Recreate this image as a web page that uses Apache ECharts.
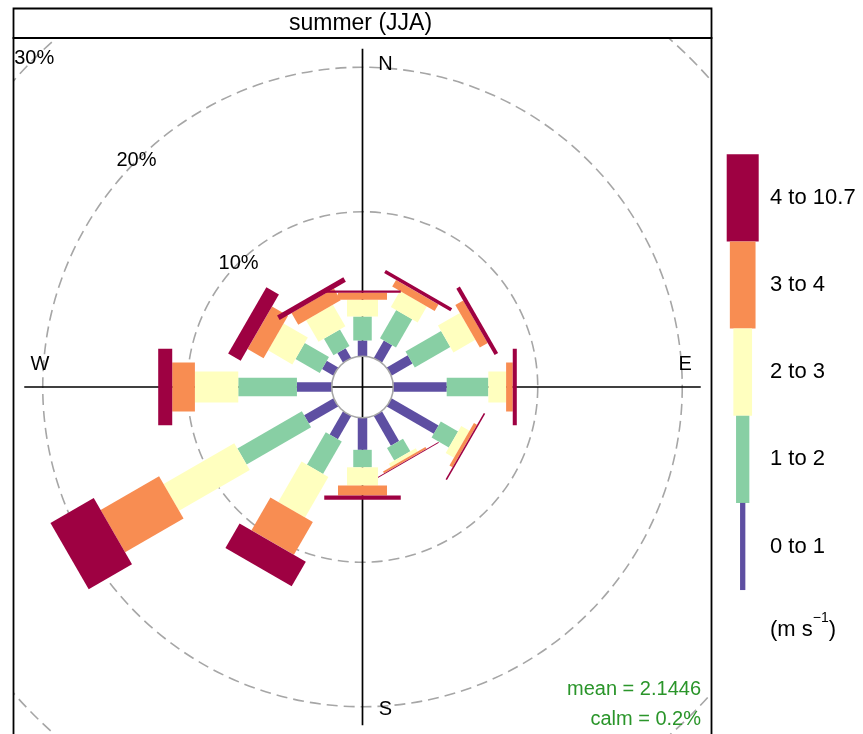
<!DOCTYPE html>
<html>
<head>
<meta charset="utf-8">
<title>summer (JJA) wind rose</title>
<script src="https://cdn.jsdelivr.net/npm/echarts@6/dist/echarts.min.js"></script>
<style>
  html, body { margin: 0; padding: 0; background: #ffffff; }
  #chart { width: 863px; height: 734px; }
</style>
</head>
<body>
<div id="chart"></div>
<script>
// ---- data -------------------------------------------------------------
const panelTitle = 'summer (JJA)';
const directions = [0, 30, 60, 90, 120, 150, 180, 210, 240, 270, 300, 330];
const speedBins = ['0 to 1', '1 to 2', '2 to 3', '3 to 4', '4 to 10.7'];
const speedUnitMain = '(m s';
const speedUnitSup = '\u22121';
// frequency (%) of each wind-speed interval, by direction
const freq0to1  = [1.09, 1.40, 1.68, 3.70, 3.76, 2.37, 2.22, 1.85, 2.35, 2.41, 0.92, 0.78];
const freq1to2  = [1.66, 2.25, 2.84, 2.88, 1.38, 1.01, 1.21, 2.60, 5.15, 4.06, 1.94, 1.32];
const freq2to3  = [1.16, 1.27, 1.75, 1.23, 0.66, 0.27, 1.26, 3.23, 5.65, 3.00, 1.94, 1.73];
const freq3to4  = [0.48, 0.53, 0.63, 0.46, 0.24, 0.14, 0.69, 2.62, 4.67, 1.57, 1.28, 0.93];
const freq4to10 = [0.16, 0.25, 0.28, 0.28, 0.11, 0.07, 0.30, 1.96, 3.46, 0.97, 1.00, 0.35];
const gridPercents = [10, 20, 30];
const gridLabels = ['10%', '20%', '30%'];
const compassLabels = ['N', 'E', 'S', 'W'];
const compassAngles = [0, 90, 180, 270];
const meanSpeed = 2.1446;
const calmPercent = 0.2;

// ---- style / layout ---------------------------------------------------
const FONT = '"Liberation Sans", Arial, Helvetica, sans-serif';
const COLORS = ['#5E4FA2', '#88CFA4', '#FFFFBF', '#F88D52', '#9E0142'];
const PADDLE_WIDTHS = [9.5, 18.5, 31, 49, 76.5];        // px, per speed interval
const KEY_WIDTHS = [5.3, 13.3, 18.7, 25.7, 32];          // px, colour key boxes
const PANEL = { x: 13.5, y: 38, w: 698, h: 700 };
const STRIP = { x: 13.5, y: 8.5, w: 698, h: 29.5 };
const CENTER = [362.5, 387];
const PX_PER_PERCENT = 14.45;
const RADIUS_MAX = 30;
const LABEL_ANGLE = 315;
const COMPASS_R = 20.2;
const COMPASS_SHIFT = 23;
const GRID_STYLE = { fill: 'none', stroke: '#a6a6a6', lineWidth: 1.6, lineDash: [11, 6] };

const bins = [freq0to1, freq1to2, freq2to3, freq3to4, freq4to10];
const totals = directions.map((_, i) => bins.reduce((s, b) => s + b[i], 0));
const maxTotal = Math.max.apply(null, totals);
const offset = maxTotal * 0.1;    // calm-circle offset in the radial scale

// stacked paddles: [outer, direction, inner, interval]; north drawn last
const paddleData = [];
const drawOrder = directions.map((_, i) => i).slice(1).concat([0]);
drawOrder.forEach(i => {
  let cum = 0;
  bins.forEach((b, j) => {
    const lo = cum;
    cum += b[i];
    paddleData.push([cum, directions[i], lo, j]);
  });
});

function center(params) {
  return [params.coordSys.cx, params.coordSys.cy];
}

function renderPaddle(params, api) {
  const hi = api.value(0), ang = api.value(1), lo = api.value(2), j = api.value(3);
  const c = center(params);
  const a = api.coord([lo, ang]);
  const b = api.coord([hi, ang]);
  const dx = b[0] - c[0], dy = b[1] - c[1];
  const len = Math.hypot(dx, dy);
  const hw = PADDLE_WIDTHS[j] / 2;
  const nx = -dy / len * hw, ny = dx / len * hw;
  return {
    type: 'polygon',
    shape: { points: [
      [a[0] + nx, a[1] + ny], [b[0] + nx, b[1] + ny],
      [b[0] - nx, b[1] - ny], [a[0] - nx, a[1] - ny]
    ] },
    style: { fill: COLORS[j] }
  };
}

function renderRing(params, api) {
  const c = center(params);
  const p = api.coord([api.value(0), 0]);
  const r = Math.hypot(p[0] - c[0], p[1] - c[1]);
  return {
    type: 'group',
    clipPath: { type: 'rect', shape: { x: PANEL.x, y: PANEL.y, width: PANEL.w, height: PANEL.h } },
    children: [{
      type: 'circle',
      shape: { cx: c[0], cy: c[1], r: r },
      style: GRID_STYLE
    }]
  };
}

function renderRingLabel(params, api) {
  const p = api.coord([api.value(0), api.value(1)]);
  return {
    type: 'text',
    style: {
      text: gridLabels[params.dataIndex], x: p[0], y: p[1],
      font: '20px ' + FONT, fill: '#000', textAlign: 'center', textVerticalAlign: 'middle'
    }
  };
}

function renderAxisLine(params, api) {
  const v = api.value(0), ang = api.value(1);
  const a = api.coord([v, ang]);
  const b = api.coord([v, ang + 180]);
  return {
    type: 'line',
    shape: { x1: a[0], y1: a[1], x2: b[0], y2: b[1] },
    style: { stroke: '#000', lineWidth: 1.7 }
  };
}

function renderCompass(params, api) {
  const ang = api.value(1);
  const p = api.coord([api.value(0), ang]);
  const vertical = (ang % 180) === 0;
  return {
    type: 'text',
    style: {
      text: compassLabels[params.dataIndex],
      x: p[0] + (vertical ? COMPASS_SHIFT : 0),
      y: p[1] - (vertical ? 0 : COMPASS_SHIFT),
      font: '20px ' + FONT, fill: '#000', textAlign: 'center', textVerticalAlign: 'middle'
    }
  };
}

function renderCalm(params, api) {
  const c = center(params);
  const p = api.coord([api.value(0), 0]);
  const r = Math.hypot(p[0] - c[0], p[1] - c[1]);
  return {
    type: 'circle',
    shape: { cx: c[0], cy: c[1], r: r },
    style: { fill: 'none', stroke: '#a6a6a6', lineWidth: 1.6 }
  };
}

// ---- colour key -------------------------------------------------------
const KEY_CX = 742.7, KEY_TOP = 154.3, KEY_STEP = 87.15, KEY_TEXT_X = 770;
const keyElements = [];
for (let j = bins.length - 1; j >= 0; j--) {
  const row = bins.length - 1 - j;
  const y0 = KEY_TOP + row * KEY_STEP;
  keyElements.push({
    type: 'rect', silent: true,
    shape: { x: KEY_CX - KEY_WIDTHS[j] / 2, y: y0, width: KEY_WIDTHS[j], height: KEY_STEP },
    style: { fill: COLORS[j] }
  });
  keyElements.push({
    type: 'text', silent: true,
    style: {
      text: speedBins[j], x: KEY_TEXT_X, y: y0 + KEY_STEP / 2,
      font: '22px ' + FONT, fill: '#000', textAlign: 'left', textVerticalAlign: 'middle'
    }
  });
}
keyElements.push({
  type: 'text', silent: true,
  style: {
    text: '{a|' + speedUnitMain + '}{b|' + speedUnitSup + '}{a|)}',
    x: KEY_TEXT_X, y: 626, textAlign: 'left', textVerticalAlign: 'middle',
    rich: {
      a: { fontFamily: FONT, fontSize: 22, fill: '#000', color: '#000', lineHeight: 30, verticalAlign: 'bottom' },
      b: { fontFamily: FONT, fontSize: 14, fill: '#000', color: '#000', lineHeight: 30, verticalAlign: 'top' }
    }
  }
});

const option = {
  animation: false,
  backgroundColor: '#ffffff',
  polar: { center: CENTER, radius: PX_PER_PERCENT * (RADIUS_MAX + offset) },
  angleAxis: {
    type: 'value', min: 0, max: 360, startAngle: 90, clockwise: true,
    axisLine: { show: false }, axisTick: { show: false }, axisLabel: { show: false },
    splitLine: { show: false }, splitArea: { show: false }
  },
  radiusAxis: {
    type: 'value', min: -offset, max: RADIUS_MAX,
    axisLine: { show: false }, axisTick: { show: false }, axisLabel: { show: false },
    splitLine: { show: false }, splitArea: { show: false }
  },
  series: [
    {
      type: 'custom', coordinateSystem: 'polar', silent: true, z: 1,
      dimensions: ['r', 'angle'], encode: { radius: 0, angle: 1 },
      data: gridPercents.map(v => [v, 0]), renderItem: renderRing
    },
    {
      type: 'custom', coordinateSystem: 'polar', silent: true, z: 2,
      dimensions: ['r', 'angle'], encode: { radius: 0, angle: 1 },
      data: [[maxTotal, 0], [maxTotal, 90]], renderItem: renderAxisLine
    },
    {
      type: 'custom', coordinateSystem: 'polar', silent: true, z: 3,
      dimensions: ['r', 'angle', 'lo', 'bin'], encode: { radius: 0, angle: 1 },
      data: paddleData, renderItem: renderPaddle
    },
    {
      type: 'custom', coordinateSystem: 'polar', silent: true, z: 4,
      dimensions: ['r', 'angle'], encode: { radius: 0, angle: 1 },
      data: [[0, 0]], renderItem: renderCalm
    },
    {
      type: 'custom', coordinateSystem: 'polar', silent: true, z: 5,
      dimensions: ['r', 'angle'], encode: { radius: 0, angle: 1 },
      data: gridPercents.map(v => [v, LABEL_ANGLE]), renderItem: renderRingLabel
    },
    {
      type: 'custom', coordinateSystem: 'polar', silent: true, z: 5,
      dimensions: ['r', 'angle'], encode: { radius: 0, angle: 1 },
      data: compassAngles.map(a => [COMPASS_R, a]), renderItem: renderCompass
    }
  ],
  graphic: {
    elements: [
      {
        type: 'rect', silent: true, z: 10,
        shape: { x: STRIP.x, y: STRIP.y, width: STRIP.w, height: STRIP.h },
        style: { fill: '#ffffff', stroke: '#000', lineWidth: 1.8 }
      },
      {
        type: 'text', silent: true, z: 11,
        style: {
          text: panelTitle, x: STRIP.x + STRIP.w / 2 - 2, y: STRIP.y + STRIP.h / 2 + 0.5,
          font: '23px ' + FONT, fill: '#000', textAlign: 'center', textVerticalAlign: 'middle'
        }
      },
      {
        type: 'rect', silent: true, z: 10,
        shape: { x: PANEL.x, y: PANEL.y, width: PANEL.w, height: PANEL.h },
        style: { fill: 'none', stroke: '#000', lineWidth: 1.8 }
      },
      {
        type: 'text', silent: true, z: 11,
        style: {
          text: 'mean = ' + meanSpeed, x: 701, y: 689,
          font: '20px ' + FONT, fill: '#2A952A', textAlign: 'right', textVerticalAlign: 'middle'
        }
      },
      {
        type: 'text', silent: true, z: 11,
        style: {
          text: 'calm = ' + calmPercent + '%', x: 701, y: 719,
          font: '20px ' + FONT, fill: '#2A952A', textAlign: 'right', textVerticalAlign: 'middle'
        }
      }
    ].concat(keyElements)
  }
};

const chart = echarts.init(document.getElementById('chart'));
chart.setOption(option);
</script>
</body>
</html>
